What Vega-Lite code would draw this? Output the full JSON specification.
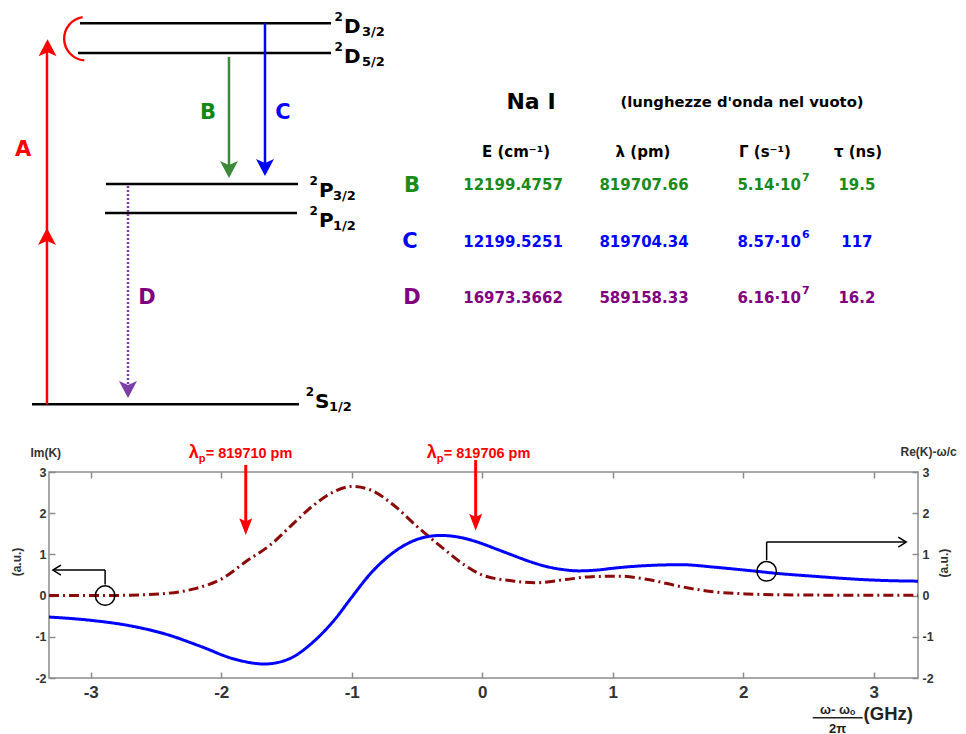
{
  "$schema": "https://vega.github.io/schema/vega-lite/v6.json",
  "background": "white",
  "padding": {"left": 10, "top": 0, "right": 0, "bottom": 0},
  "bounds": "flush",
  "spacing": 51,
  "config": {"view": {"stroke": null}},
  "vconcat": [
    {
      "width": 869,
      "height": 421,
      "encoding": {
        "x": {"field": "x", "type": "quantitative", "scale": {"domain": [5, 95], "nice": false, "zero": false}, "axis": null},
        "y": {"field": "y", "type": "quantitative", "scale": {"domain": [-0.4, 9.6], "nice": false, "zero": false}, "axis": null}
      },
      "layer": [
        {
          "data": {"values": [
            {"term": "D3/2", "x": 8.21, "x2": 34.21, "y": 9.05},
            {"term": "D5/2", "x": 8.0, "x2": 34.21, "y": 8.34},
            {"term": "P3/2", "x": 10.9, "x2": 30.79, "y": 5.23},
            {"term": "P1/2", "x": 10.8, "x2": 30.68, "y": 4.54},
            {"term": "S1/2", "x": 3.24, "x2": 30.89, "y": 0}
          ]},
          "mark": {"type": "rule", "color": "black", "strokeWidth": 2.5},
          "encoding": {"x2": {"field": "x2"}}
        },
        {
          "data": {"name": "terms", "values": [
            {"term": "D3/2", "main": "D", "sup": "2", "sub": "3/2", "x": 35.55, "xs": 37.42, "y": 8.816},
            {"term": "D5/2", "main": "D", "sup": "2", "sub": "5/2", "x": 35.55, "xs": 37.42, "y": 8.104},
            {"term": "P3/2", "main": "P", "sup": "2", "sub": "3/2", "x": 32.96, "xs": 34.41, "y": 4.921},
            {"term": "P1/2", "main": "P", "sup": "2", "sub": "1/2", "x": 32.96, "xs": 34.41, "y": 4.208},
            {"term": "S1/2", "main": "S", "sup": "2", "sub": "1/2", "x": 32.55, "xs": 34.0, "y": -0.091}
          ]},
          "mark": {"type": "text", "font": "DejaVu Sans", "fontWeight": "bold", "fontSize": 20, "align": "left", "baseline": "alphabetic", "color": "black"},
          "encoding": {"text": {"field": "main"}}
        },
        {
          "data": {"name": "terms"},
          "mark": {"type": "text", "font": "DejaVu Sans", "fontWeight": "bold", "fontSize": 12, "align": "right", "baseline": "alphabetic", "dx": -1, "dy": -12, "color": "black"},
          "encoding": {"text": {"field": "sup"}}
        },
        {
          "data": {"name": "terms"},
          "mark": {"type": "text", "font": "DejaVu Sans", "fontWeight": "bold", "fontSize": 13, "align": "left", "baseline": "alphabetic", "dy": 3, "color": "black"},
          "encoding": {
            "x": {"field": "xs", "type": "quantitative", "scale": {"domain": [5, 95], "nice": false, "zero": false}, "axis": null},
            "text": {"field": "sub"}
          }
        },
        {
          "data": {"values": [{"x": 8.83, "y": 8.681}]},
          "mark": {"type": "arc", "radius": 23, "radius2": 20.6, "theta": 3.22, "theta2": 6.13, "color": "#ff0000"}
        },
        {
          "data": {"values": [
            {"transition": "A", "x": 4.79, "y": 0, "y2": 8.6},
            {"transition": "B", "x": 23.64, "y": 8.246, "y2": 5.45},
            {"transition": "C", "x": 27.37, "y": 9.05, "y2": 5.5},
            {"transition": "D", "x": 13.18, "y": 5.182, "y2": 0.22}
          ]},
          "mark": {"type": "rule", "strokeWidth": 2.5},
          "encoding": {
            "y2": {"field": "y2"},
            "color": {"field": "transition", "type": "nominal", "scale": {"domain": ["A", "B", "C", "D"], "range": ["#ff0000", "#3a8a3a", "#0000ff", "#7a3ea6"]}, "legend": null},
            "strokeDash": {"field": "transition", "type": "nominal", "scale": {"domain": ["A", "B", "C", "D"], "range": [[1, 0], [1, 0], [1, 0], [2, 2]]}, "legend": null}
          }
        },
        {
          "data": {"values": [
            {"transition": "A", "x": 4.79, "y": 4.184, "dir": "up"},
            {"transition": "A", "x": 4.85, "y": 8.67, "dir": "up"},
            {"transition": "B", "x": 23.64, "y": 5.372, "dir": "down"},
            {"transition": "C", "x": 27.37, "y": 5.42, "dir": "down"},
            {"transition": "D", "x": 13.18, "y": 0.146, "dir": "down"}
          ]},
          "mark": {"type": "point", "filled": true, "size": 400, "opacity": 1},
          "encoding": {
            "color": {"field": "transition", "type": "nominal", "scale": {"domain": ["A", "B", "C", "D"], "range": ["#ff0000", "#3a8a3a", "#0000ff", "#7a3ea6"]}, "legend": null},
            "shape": {"field": "dir", "type": "nominal", "scale": {"domain": ["up", "down"], "range": ["M0,0L-0.9,1.7L0,1.3L0.9,1.7Z", "M0,0L-0.9,-1.7L0,-1.3L0.9,-1.7Z"]}, "legend": null}
          }
        },
        {
          "data": {"values": [
            {"transition": "A", "x": 2.31, "y": 6.037},
            {"transition": "B", "x": 21.47, "y": 6.916},
            {"transition": "C", "x": 29.23, "y": 6.916},
            {"transition": "D", "x": 15.15, "y": 2.522}
          ]},
          "mark": {"type": "text", "font": "DejaVu Sans", "fontWeight": "bold", "fontSize": 21, "align": "center", "baseline": "middle"},
          "encoding": {
            "text": {"field": "transition"},
            "color": {"field": "transition", "type": "nominal", "scale": {"domain": ["A", "B", "C", "D"], "range": ["#ff0000", "#118811", "#0000ff", "#800080"]}, "legend": null}
          }
        },
        {
          "data": {"values": [{"text": "Na I", "x": 54.92, "y": 7.177}]},
          "mark": {"type": "text", "font": "DejaVu Sans", "fontWeight": "bold", "fontSize": 22, "align": "center", "baseline": "middle", "color": "black"},
          "encoding": {"text": {"field": "text"}}
        },
        {
          "data": {"values": [{"text": "(lunghezze d'onda nel vuoto)", "x": 76.77, "y": 7.153}]},
          "mark": {"type": "text", "font": "DejaVu Sans", "fontWeight": "bold", "fontSize": 14.8, "align": "center", "baseline": "middle", "color": "black"},
          "encoding": {"text": {"field": "text"}}
        },
        {
          "data": {"values": [
            {"text": "E (cm⁻¹)", "x": 53.37, "y": 5.99},
            {"text": "λ (pm)", "x": 66.52, "y": 5.99},
            {"text": "Γ (s⁻¹)", "x": 79.15, "y": 5.99},
            {"text": "τ (ns)", "x": 88.78, "y": 5.99}
          ]},
          "mark": {"type": "text", "font": "DejaVu Sans", "fontWeight": "bold", "fontSize": 15, "align": "center", "baseline": "middle", "color": "black"},
          "encoding": {"text": {"field": "text"}}
        },
        {
          "data": {"values": [
            {"row": "B", "text": "B", "x": 42.59, "y": 5.19},
            {"row": "C", "text": "C", "x": 42.38, "y": 3.85},
            {"row": "D", "text": "D", "x": 42.59, "y": 2.51}
          ]},
          "mark": {"type": "text", "font": "DejaVu Sans", "fontWeight": "bold", "fontSize": 21, "align": "center", "baseline": "middle"},
          "encoding": {
            "text": {"field": "text"},
            "color": {"field": "row", "type": "nominal", "scale": {"domain": ["B", "C", "D"], "range": ["#1a8a1a", "#0000ff", "#800080"]}, "legend": null}
          }
        },
        {
          "data": {"values": [
            {"row": "B", "text": "12199.4757", "x": 53.06, "y": 5.206},
            {"row": "B", "text": "819707.66", "x": 66.62, "y": 5.206},
            {"row": "B", "text": "19.5", "x": 88.67, "y": 5.206},
            {"row": "C", "text": "12199.5251", "x": 53.06, "y": 3.852},
            {"row": "C", "text": "819704.34", "x": 66.62, "y": 3.852},
            {"row": "C", "text": "117", "x": 88.67, "y": 3.852},
            {"row": "D", "text": "16973.3662", "x": 53.06, "y": 2.522},
            {"row": "D", "text": "589158.33", "x": 66.62, "y": 2.522},
            {"row": "D", "text": "16.2", "x": 88.67, "y": 2.522}
          ]},
          "mark": {"type": "text", "font": "DejaVu Sans", "fontWeight": "bold", "fontSize": 15, "align": "center", "baseline": "middle"},
          "encoding": {
            "text": {"field": "text"},
            "color": {"field": "row", "type": "nominal", "scale": {"domain": ["B", "C", "D"], "range": ["#1a8a1a", "#0000ff", "#800080"]}, "legend": null}
          }
        },
        {
          "data": {"name": "gamma", "values": [
            {"row": "B", "base": "5.14·10", "exp": "7", "x": 82.88, "y": 5.206},
            {"row": "C", "base": "8.57·10", "exp": "6", "x": 82.88, "y": 3.852},
            {"row": "D", "base": "6.16·10", "exp": "7", "x": 82.88, "y": 2.522}
          ]},
          "mark": {"type": "text", "font": "DejaVu Sans", "fontWeight": "bold", "fontSize": 15, "align": "right", "baseline": "middle"},
          "encoding": {
            "text": {"field": "base"},
            "color": {"field": "row", "type": "nominal", "scale": {"domain": ["B", "C", "D"], "range": ["#1a8a1a", "#0000ff", "#800080"]}, "legend": null}
          }
        },
        {
          "data": {"name": "gamma"},
          "mark": {"type": "text", "font": "DejaVu Sans", "fontWeight": "bold", "fontSize": 11, "align": "left", "baseline": "middle", "dx": 1, "dy": -7},
          "encoding": {
            "text": {"field": "exp"},
            "color": {"field": "row", "type": "nominal", "scale": {"domain": ["B", "C", "D"], "range": ["#1a8a1a", "#0000ff", "#800080"]}, "legend": null}
          }
        }
      ],
      "resolve": {"scale": {"color": "independent", "strokeDash": "independent", "shape": "independent"}}
    },
    {
      "width": 869,
      "height": 206,
      "view": {"stroke": "#8c8c8c", "strokeWidth": 1.5},
      "layer": [
        {
          "data": {"values": [
            {"series": "Im", "x": -3.32, "v": 0.0},
            {"series": "Im", "x": -3.0, "v": 0.0},
            {"series": "Im", "x": -2.7, "v": 0.01},
            {"series": "Im", "x": -2.4, "v": 0.06},
            {"series": "Im", "x": -2.2, "v": 0.17},
            {"series": "Im", "x": -2.0, "v": 0.4},
            {"series": "Im", "x": -1.8, "v": 0.85},
            {"series": "Im", "x": -1.62, "v": 1.24},
            {"series": "Im", "x": -1.47, "v": 1.68},
            {"series": "Im", "x": -1.29, "v": 2.2},
            {"series": "Im", "x": -1.13, "v": 2.53},
            {"series": "Im", "x": -1.0, "v": 2.65},
            {"series": "Im", "x": -0.86, "v": 2.57},
            {"series": "Im", "x": -0.68, "v": 2.2},
            {"series": "Im", "x": -0.5, "v": 1.68},
            {"series": "Im", "x": -0.32, "v": 1.2},
            {"series": "Im", "x": -0.12, "v": 0.71},
            {"series": "Im", "x": 0.0, "v": 0.5},
            {"series": "Im", "x": 0.25, "v": 0.35},
            {"series": "Im", "x": 0.4, "v": 0.31},
            {"series": "Im", "x": 0.64, "v": 0.39},
            {"series": "Im", "x": 0.84, "v": 0.46},
            {"series": "Im", "x": 1.06, "v": 0.47},
            {"series": "Im", "x": 1.27, "v": 0.39},
            {"series": "Im", "x": 1.52, "v": 0.22},
            {"series": "Im", "x": 1.78, "v": 0.09},
            {"series": "Im", "x": 2.03, "v": 0.04},
            {"series": "Im", "x": 2.29, "v": 0.02},
            {"series": "Im", "x": 2.8, "v": 0.01},
            {"series": "Im", "x": 3.34, "v": 0.01},
            {"series": "Re", "x": -3.32, "v": -0.52},
            {"series": "Re", "x": -3.0, "v": -0.6},
            {"series": "Re", "x": -2.67, "v": -0.75},
            {"series": "Re", "x": -2.41, "v": -0.95},
            {"series": "Re", "x": -2.16, "v": -1.23},
            {"series": "Re", "x": -1.9, "v": -1.54},
            {"series": "Re", "x": -1.67, "v": -1.66},
            {"series": "Re", "x": -1.49, "v": -1.55},
            {"series": "Re", "x": -1.29, "v": -1.11},
            {"series": "Re", "x": -1.13, "v": -0.58},
            {"series": "Re", "x": -1.0, "v": -0.04},
            {"series": "Re", "x": -0.86, "v": 0.52},
            {"series": "Re", "x": -0.72, "v": 0.95},
            {"series": "Re", "x": -0.58, "v": 1.25},
            {"series": "Re", "x": -0.45, "v": 1.41},
            {"series": "Re", "x": -0.32, "v": 1.46},
            {"series": "Re", "x": -0.2, "v": 1.43},
            {"series": "Re", "x": -0.1, "v": 1.36},
            {"series": "Re", "x": 0.0, "v": 1.26},
            {"series": "Re", "x": 0.1, "v": 1.14},
            {"series": "Re", "x": 0.2, "v": 1.02},
            {"series": "Re", "x": 0.3, "v": 0.9},
            {"series": "Re", "x": 0.4, "v": 0.79},
            {"series": "Re", "x": 0.5, "v": 0.7},
            {"series": "Re", "x": 0.6, "v": 0.64},
            {"series": "Re", "x": 0.74, "v": 0.6},
            {"series": "Re", "x": 0.88, "v": 0.62},
            {"series": "Re", "x": 1.02, "v": 0.67},
            {"series": "Re", "x": 1.27, "v": 0.73},
            {"series": "Re", "x": 1.53, "v": 0.75},
            {"series": "Re", "x": 1.78, "v": 0.69},
            {"series": "Re", "x": 2.04, "v": 0.61},
            {"series": "Re", "x": 2.29, "v": 0.53},
            {"series": "Re", "x": 2.54, "v": 0.47},
            {"series": "Re", "x": 2.8, "v": 0.41},
            {"series": "Re", "x": 3.05, "v": 0.37},
            {"series": "Re", "x": 3.34, "v": 0.35}
          ]},
          "mark": {"type": "line", "strokeWidth": 3, "interpolate": "monotone"},
          "encoding": {
            "x": {"field": "x", "type": "quantitative", "scale": {"domain": [-3.32, 3.34], "nice": false, "zero": false},
              "axis": {"orient": "bottom", "values": [-3, -2, -1, 0, 1, 2, 3], "labelExpr": "'' + datum.value", "title": null, "grid": false, "domain": false, "tickSize": -6, "tickColor": "#8c8c8c", "tickWidth": 1.5, "labelFont": "Liberation Sans", "labelFontWeight": "bold", "labelFontSize": 17, "labelColor": "#333333", "labelPadding": 12}},
            "y": {"field": "v", "type": "quantitative", "scale": {"domain": [-2, 3], "nice": false, "zero": false},
              "axis": {"orient": "left", "values": [-2, -1, 0, 1, 2, 3], "labelExpr": "'' + datum.value", "title": null, "grid": false, "domain": false, "tickSize": -6, "tickColor": "#8c8c8c", "tickWidth": 1.5, "labelFont": "Liberation Sans", "labelFontWeight": "bold", "labelFontSize": 12.5, "labelColor": "#333333", "labelPadding": 9}},
            "color": {"field": "series", "type": "nominal", "scale": {"domain": ["Re", "Im"], "range": ["#0000ff", "#8b0a0a"]}, "legend": null},
            "strokeDash": {"field": "series", "type": "nominal", "scale": {"domain": ["Re", "Im"], "range": [[1, 0], [10, 4, 2, 4]]}, "legend": null},
            "order": {"field": "x", "type": "quantitative"}
          }
        },
        {
          "data": {"values": [{"x": -2.89, "y": 0}, {"x": 2.18, "y": 0.59}]},
          "mark": {"type": "point", "shape": "circle", "size": 380, "filled": false, "color": "black", "strokeWidth": 1.5, "opacity": 1},
          "encoding": {
            "x": {"field": "x", "type": "quantitative", "scale": {"domain": [-3.32, 3.34], "nice": false, "zero": false},
              "axis": {"orient": "top", "values": [-3, -2, -1, 0, 1, 2, 3], "labels": false, "title": null, "grid": false, "domain": false, "tickSize": -6, "tickColor": "#8c8c8c", "tickWidth": 1.5}},
            "y": {"field": "y", "type": "quantitative", "scale": {"domain": [-2, 3], "nice": false, "zero": false},
              "axis": {"orient": "right", "values": [-2, -1, 0, 1, 2, 3], "labelExpr": "'' + datum.value", "title": null, "grid": false, "domain": false, "tickSize": -6, "tickColor": "#8c8c8c", "tickWidth": 1.5, "labelFont": "Liberation Sans", "labelFontWeight": "bold", "labelFontSize": 12.5, "labelColor": "#333333", "labelPadding": 10}}
          }
        },
        {
          "data": {"values": [
            {"x": -2.89, "y": 0.27, "x2": -2.89, "y2": 0.62},
            {"x": -2.89, "y": 0.62, "x2": -3.285, "y2": 0.62},
            {"x": 2.18, "y": 0.86, "x2": 2.18, "y2": 1.3},
            {"x": 2.18, "y": 1.3, "x2": 3.245, "y2": 1.3}
          ]},
          "mark": {"type": "rule", "color": "black", "strokeWidth": 1.5},
          "encoding": {
            "x": {"field": "x", "type": "quantitative", "scale": {"domain": [-3.32, 3.34], "nice": false, "zero": false}, "axis": null},
            "x2": {"field": "x2"},
            "y": {"field": "y", "type": "quantitative", "scale": {"domain": [-2, 3], "nice": false, "zero": false}, "axis": null},
            "y2": {"field": "y2"}
          }
        },
        {
          "data": {"values": [
            {"x": -3.29, "y": 0.62, "dir": "left"},
            {"x": 3.25, "y": 1.3, "dir": "right"}
          ]},
          "mark": {"type": "point", "size": 100, "filled": false, "color": "black", "strokeWidth": 1.5, "opacity": 1},
          "encoding": {
            "x": {"field": "x", "type": "quantitative", "scale": {"domain": [-3.32, 3.34], "nice": false, "zero": false}, "axis": null},
            "y": {"field": "y", "type": "quantitative", "scale": {"domain": [-2, 3], "nice": false, "zero": false}, "axis": null},
            "shape": {"field": "dir", "type": "nominal", "scale": {"domain": ["left", "right"], "range": ["M1.6,-1L0,0L1.6,1", "M-1.6,-1L0,0L-1.6,1"]}, "legend": null}
          }
        },
        {
          "data": {"values": [
            {"x": -1.812, "y": 3.17, "y2": 1.6},
            {"x": -0.05, "y": 3.29, "y2": 1.7}
          ]},
          "mark": {"type": "rule", "color": "#ff0000", "strokeWidth": 3},
          "encoding": {
            "x": {"field": "x", "type": "quantitative", "scale": {"domain": [-3.32, 3.34], "nice": false, "zero": false}, "axis": null},
            "y": {"field": "y", "type": "quantitative", "scale": {"domain": [-2, 3], "nice": false, "zero": false}, "axis": null},
            "y2": {"field": "y2"}
          }
        },
        {
          "data": {"values": [
            {"x": -1.812, "y": 1.47},
            {"x": -0.05, "y": 1.575}
          ]},
          "mark": {"type": "point", "shape": "M0,0L-1,-2.6L0,-2.1L1,-2.6Z", "size": 169, "filled": true, "color": "#ff0000", "opacity": 1},
          "encoding": {
            "x": {"field": "x", "type": "quantitative", "scale": {"domain": [-3.32, 3.34], "nice": false, "zero": false}, "axis": null},
            "y": {"field": "y", "type": "quantitative", "scale": {"domain": [-2, 3], "nice": false, "zero": false}, "axis": null}
          }
        },
        {
          "data": {"name": "lam", "values": [
            {"x": -2.119, "y": 3.34, "lam": "λ", "sub": "p", "rest": "= 819710 pm"},
            {"x": -0.295, "y": 3.34, "lam": "λ", "sub": "p", "rest": "= 819706 pm"}
          ]},
          "mark": {"type": "text", "font": "Liberation Sans", "fontWeight": "bold", "fontSize": 18, "align": "right", "baseline": "alphabetic", "dx": -7, "color": "#ff0000"},
          "encoding": {
            "x": {"field": "x", "type": "quantitative", "scale": {"domain": [-3.32, 3.34], "nice": false, "zero": false}, "axis": null},
            "y": {"field": "y", "type": "quantitative", "scale": {"domain": [-2, 3], "nice": false, "zero": false}, "axis": null},
            "text": {"field": "lam"}
          }
        },
        {
          "data": {"name": "lam"},
          "mark": {"type": "text", "font": "Liberation Sans", "fontWeight": "bold", "fontSize": 11, "align": "left", "baseline": "alphabetic", "dx": -7, "dy": 4, "color": "#ff0000"},
          "encoding": {
            "x": {"field": "x", "type": "quantitative", "scale": {"domain": [-3.32, 3.34], "nice": false, "zero": false}, "axis": null},
            "y": {"field": "y", "type": "quantitative", "scale": {"domain": [-2, 3], "nice": false, "zero": false}, "axis": null},
            "text": {"field": "sub"}
          }
        },
        {
          "data": {"name": "lam"},
          "mark": {"type": "text", "font": "Liberation Sans", "fontWeight": "bold", "fontSize": 14.5, "align": "left", "baseline": "alphabetic", "color": "#ff0000"},
          "encoding": {
            "x": {"field": "x", "type": "quantitative", "scale": {"domain": [-3.32, 3.34], "nice": false, "zero": false}, "axis": null},
            "y": {"field": "y", "type": "quantitative", "scale": {"domain": [-2, 3], "nice": false, "zero": false}, "axis": null},
            "text": {"field": "rest"}
          }
        },
        {
          "data": {"values": [
            {"text": "Im(K)", "x": -3.345, "y": 3.46},
            {"text": "Re(K)-ω/c", "x": 3.421, "y": 3.485}
          ]},
          "mark": {"type": "text", "font": "Liberation Sans", "fontWeight": "bold", "fontSize": 12, "align": "center", "baseline": "middle", "color": "#333333"},
          "encoding": {
            "x": {"field": "x", "type": "quantitative", "scale": {"domain": [-3.32, 3.34], "nice": false, "zero": false}, "axis": null},
            "y": {"field": "y", "type": "quantitative", "scale": {"domain": [-2, 3], "nice": false, "zero": false}, "axis": null},
            "text": {"field": "text"}
          }
        },
        {
          "data": {"values": [
            {"text": "(a.u.)", "x": -3.567, "y": 0.816},
            {"text": "(a.u.)", "x": 3.536, "y": 0.79}
          ]},
          "mark": {"type": "text", "font": "Liberation Sans", "fontWeight": "bold", "fontSize": 12, "align": "center", "baseline": "middle", "angle": 270, "color": "#333333"},
          "encoding": {
            "x": {"field": "x", "type": "quantitative", "scale": {"domain": [-3.32, 3.34], "nice": false, "zero": false}, "axis": null},
            "y": {"field": "y", "type": "quantitative", "scale": {"domain": [-2, 3], "nice": false, "zero": false}, "axis": null},
            "text": {"field": "text"}
          }
        },
        {
          "data": {"values": [
            {"text": "ω- ωₒ", "x": 2.724, "y": -2.87},
            {"text": "2π", "x": 2.724, "y": -3.33}
          ]},
          "mark": {"type": "text", "font": "Liberation Sans", "fontWeight": "bold", "fontSize": 13, "align": "center", "baseline": "alphabetic", "color": "#222222"},
          "encoding": {
            "x": {"field": "x", "type": "quantitative", "scale": {"domain": [-3.32, 3.34], "nice": false, "zero": false}, "axis": null},
            "y": {"field": "y", "type": "quantitative", "scale": {"domain": [-2, 3], "nice": false, "zero": false}, "axis": null},
            "text": {"field": "text"}
          }
        },
        {
          "data": {"values": [{"text": "(GHz)", "x": 2.923, "y": -3.03}]},
          "mark": {"type": "text", "font": "Liberation Sans", "fontWeight": "bold", "fontSize": 18.5, "align": "left", "baseline": "alphabetic", "color": "#222222"},
          "encoding": {
            "x": {"field": "x", "type": "quantitative", "scale": {"domain": [-3.32, 3.34], "nice": false, "zero": false}, "axis": null},
            "y": {"field": "y", "type": "quantitative", "scale": {"domain": [-2, 3], "nice": false, "zero": false}, "axis": null},
            "text": {"field": "text"}
          }
        },
        {
          "data": {"values": [{"x": 2.533, "x2": 2.916, "y": -2.963}]},
          "mark": {"type": "rule", "color": "#222222", "strokeWidth": 1.5},
          "encoding": {
            "x": {"field": "x", "type": "quantitative", "scale": {"domain": [-3.32, 3.34], "nice": false, "zero": false}, "axis": null},
            "x2": {"field": "x2"},
            "y": {"field": "y", "type": "quantitative", "scale": {"domain": [-2, 3], "nice": false, "zero": false}, "axis": null}
          }
        }
      ],
      "resolve": {
        "axis": {"x": "independent", "y": "independent"},
        "scale": {"color": "independent", "strokeDash": "independent", "shape": "independent"}
      }
    }
  ]
}
